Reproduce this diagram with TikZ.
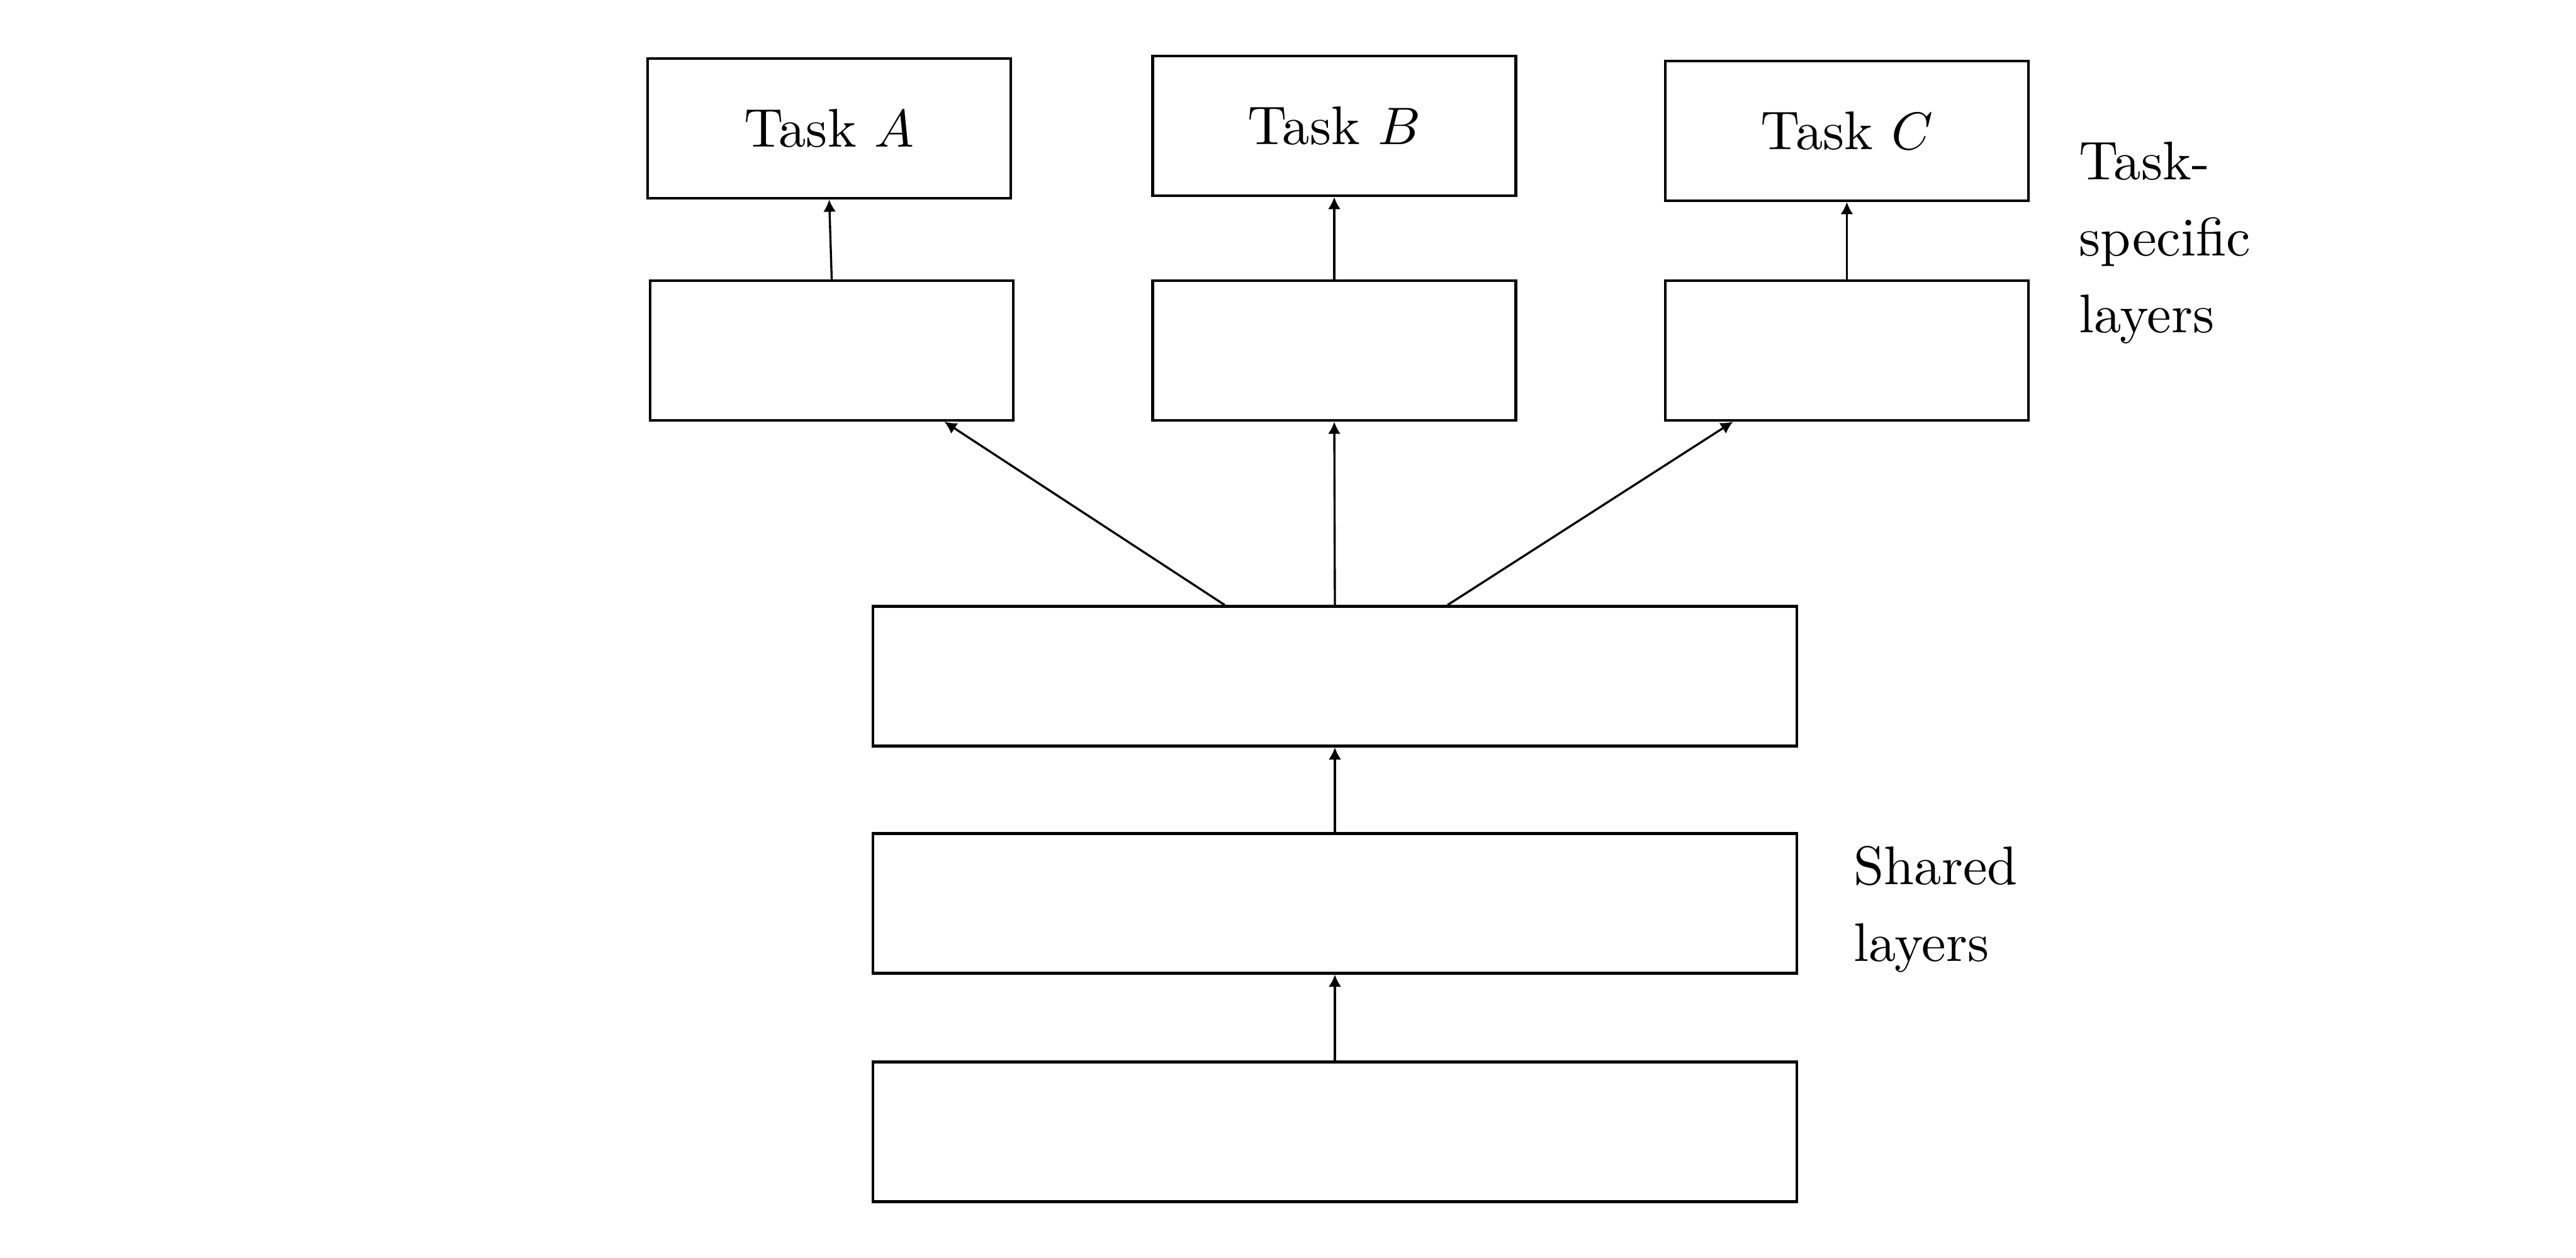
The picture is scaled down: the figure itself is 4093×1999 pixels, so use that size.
\documentclass[tikz,border=0pt]{standalone}
\usetikzlibrary{arrows.meta,calc}
\newcommand\pxlen{0.119048pt}
\begin{document}
\begin{tikzpicture}[x=\pxlen,y=-\pxlen,
  every node/.style={font=\fontsize{10.3}{14.46}\selectfont},
  layerbox/.style={draw,line width=0.5pt,inner sep=0pt,minimum height=222*\pxlen},
  taskbox/.style={layerbox,minimum width=577*\pxlen},
  sharedbox/.style={layerbox,minimum width=1468*\pxlen},
  conn/.style={line width=0.4pt,-{Latex[length=2.3pt,width=2.4pt]}},
  sidelabel/.style={anchor=base west,align=left,inner sep=0pt}]
\useasboundingbox (0,0) rectangle (4093,1999);
% task heads
\node[taskbox] (TA) at (1317.5,204) {Task $A$};
\node[taskbox] (TB) at (2120,200) {Task $B$};
\node[taskbox] (TC) at (2934.5,208) {Task $C$};
% task-specific layers
\node[taskbox] (A2) at (1321.5,557) {};
\node[taskbox] (B2) at (2120,557) {};
\node[taskbox] (C2) at (2934.5,557) {};
% shared layers
\node[sharedbox] (S3) at (2121,1074.5) {};
\node[sharedbox] (S2) at (2121,1435.5) {};
\node[sharedbox] (S1) at (2121,1798.5) {};
% labels (base anchor = baseline of last line)
\node[sidelabel] (tsl) at (3302,528) {Task-\\specific\\layers};
\node[sidelabel] (shl) at (2944,1527) {Shared\\layers};
% connectors
\draw[conn] (A2.north) -- (TA.south);
\draw[conn] (B2.north) -- (TB.south);
\draw[conn] (C2.north) -- (TC.south);
\coordinate (sl) at ($(S3.north)+(-175,0)$);
\coordinate (sr) at ($(S3.north)+(179,0)$);
\coordinate (al) at ($(A2.south)+(179,0)$);
\coordinate (cr) at ($(C2.south)+(-181,0)$);
\draw[conn] (sl) -- (al);
\draw[conn] (S3.north) -- (B2.south);
\draw[conn] (sr) -- (cr);
\draw[conn] (S2.north) -- (S3.south);
\draw[conn] (S1.north) -- (S2.south);
\end{tikzpicture}
\end{document}
